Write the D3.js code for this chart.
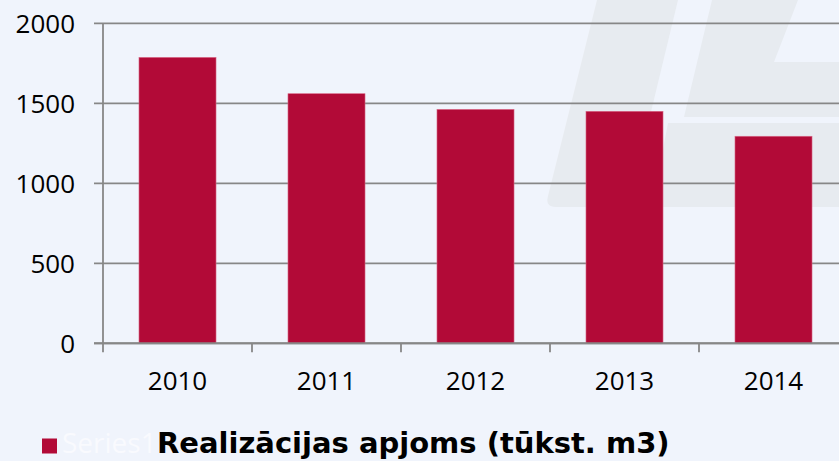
<!DOCTYPE html>
<html>
<head>
<meta charset="utf-8">
<script src="https://cdn.jsdelivr.net/npm/d3@7"></script>
<style>
  body { margin: 0; background: #f0f4fc; }
  svg { display: block; }
  .tick-label { font-family: "Open Sans", sans-serif; font-size: 26px; fill: #000; }
</style>
</head>
<body>
<div id="chart"></div>
<script>
// data
const years = ['2010', '2011', '2012', '2013', '2014'];
const volumes = [1787, 1560, 1462, 1450, 1294];
const yTicks = [0, 500, 1000, 1500, 2000];
const seriesName = 'Series1';
const legendTitle = 'Realizācijas apjoms (tūkst. m3)';

const width = 839, height = 461;
const svg = d3.select('#chart').append('svg')
  .attr('width', width)
  .attr('height', height);

svg.append('rect').attr('width', width).attr('height', height).attr('fill', '#f0f4fc');

// faint watermark in the background
const mark = svg.append('g').attr('fill', '#e7ebf0');
mark.append('path').attr('d', 'M597,0 L678,0 L628,207 L556,207 Q545,207 548,196 Z');
mark.append('path').attr('d', 'M712,0 L798,0 L774,62 L839,62 L839,117 L684,117 Z');
mark.append('path').attr('d', 'M668,123 L839,123 L839,207 L652,207 Z');

// scales
const x = d3.scaleBand()
  .domain(years)
  .range([103, 848])
  .paddingInner(0.483)
  .paddingOuter(0.2415);

const y = d3.scaleLinear()
  .domain([0, 2000])
  .range([343.3, 23.3]);

// gridlines (with the little ticks left of the axis)
svg.append('g')
  .selectAll('line')
  .data(yTicks)
  .enter()
  .append('line')
  .attr('x1', 94)
  .attr('x2', width)
  .attr('y1', d => y(d))
  .attr('y2', d => y(d))
  .attr('stroke', '#878787')
  .attr('stroke-width', 1.8);

// y tick labels
svg.append('g')
  .selectAll('text')
  .data(yTicks)
  .enter()
  .append('text')
  .attr('class', 'tick-label')
  .attr('x', 75)
  .attr('y', d => y(d))
  .attr('dy', '0.36em')
  .attr('text-anchor', 'end')
  .text(d => d);

// bars
svg.append('g')
  .selectAll('rect')
  .data(volumes)
  .enter()
  .append('rect')
  .attr('x', (d, i) => x(years[i]))
  .attr('y', d => y(d))
  .attr('width', x.bandwidth())
  .attr('height', d => y(0) - y(d))
  .attr('fill', '#b20a37')
  .attr('stroke', '#d96a88')
  .attr('stroke-width', 0.6);

// y axis line
svg.append('line')
  .attr('x1', 103).attr('x2', 103)
  .attr('y1', y(2000)).attr('y2', y(0) + 9)
  .attr('stroke', '#878787')
  .attr('stroke-width', 1.8);

// x axis: line on zero, ticks between categories
svg.append('line')
  .attr('x1', 94).attr('x2', width)
  .attr('y1', y(0)).attr('y2', y(0))
  .attr('stroke', '#878787')
  .attr('stroke-width', 2);

svg.append('g')
  .selectAll('line')
  .data(years.slice(1))
  .enter()
  .append('line')
  .attr('x1', d => x(d) - x.step() * x.paddingInner() / 2)
  .attr('x2', d => x(d) - x.step() * x.paddingInner() / 2)
  .attr('y1', y(0))
  .attr('y2', y(0) + 9)
  .attr('stroke', '#878787')
  .attr('stroke-width', 1.8);

svg.append('g')
  .selectAll('text')
  .data(years)
  .enter()
  .append('text')
  .attr('class', 'tick-label')
  .attr('x', d => x(d) + x.bandwidth() / 2)
  .attr('y', 390)
  .attr('text-anchor', 'middle')
  .text(d => d);

// legend
svg.append('rect')
  .attr('x', 42).attr('y', 438.5)
  .attr('width', 15).attr('height', 15)
  .attr('fill', '#b20a37');

const legend = svg.append('text')
  .attr('y', 453)
  .attr('font-family', '"Open Sans", sans-serif');

legend.append('tspan')
  .attr('x', 62)
  .attr('font-size', 28)
  .attr('fill', '#f9fafe')
  .text(seriesName);

legend.append('tspan')
  .attr('x', 157)
  .attr('font-family', '"DejaVu Sans", sans-serif')
  .attr('font-weight', 'bold')
  .attr('font-size', 29)
  .attr('fill', '#000')
  .text(legendTitle);
</script>
</body>
</html>
